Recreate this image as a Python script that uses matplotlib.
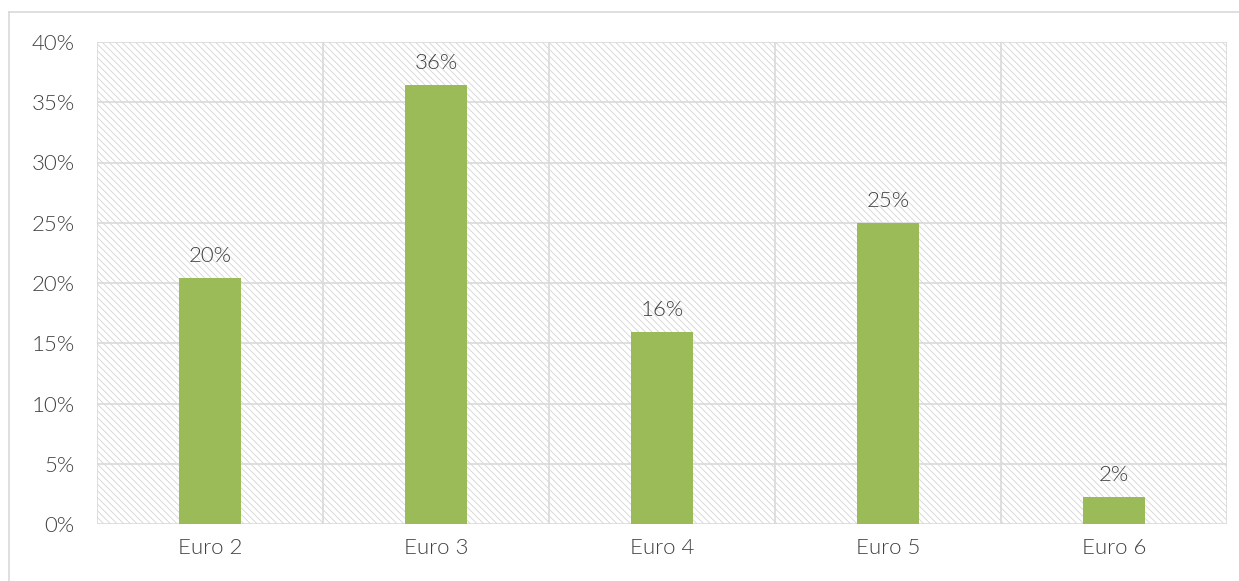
import matplotlib
matplotlib.use("Agg")
import matplotlib.pyplot as plt
from matplotlib.patches import Rectangle
from matplotlib.lines import Line2D
import numpy as np

categories = ["Euro 2", "Euro 3", "Euro 4", "Euro 5", "Euro 6"]
values = [20.4, 36.4, 15.9, 25.0, 2.2]
labels = ["20%", "36%", "16%", "25%", "2%"]
yticks = [0, 5, 10, 15, 20, 25, 30, 35, 40]
ytick_labels = [f"{t}%" for t in yticks]

plt.rcParams['font.family'] = ['Lato', 'DejaVu Sans']
plt.rcParams['hatch.color'] = '#d4d4d4'
plt.rcParams['hatch.linewidth'] = 0.6

text_color = '#404040'
grid_color = '#d9d9d9'
fs = 16
fw = 300

fig = plt.figure(figsize=(12.39, 5.81), dpi=100)
ax = fig.add_axes([97/1239, 57/581, 1130/1239, 482/581])

# outer chart border
fig.add_artist(Line2D([9/1239, 9/1239], [0, 1 - 12/581], transform=fig.transFigure, color=grid_color, lw=1.2))
fig.add_artist(Line2D([9/1239, 1], [1 - 12/581, 1 - 12/581], transform=fig.transFigure, color=grid_color, lw=1.2))

x = np.arange(len(categories))
ax.set_xlim(-0.5, len(categories) - 0.5)
ax.set_ylim(0, 40)

# hatched background
bg = Rectangle((0, 0), 1, 1, transform=ax.transAxes, facecolor='white',
               edgecolor='#d4d4d4', hatch='\\\\\\\\\\', lw=0, zorder=0)
ax.add_patch(bg)

# gridlines
for t in yticks:
    ax.axhline(t, color=grid_color, lw=1.2, zorder=1)
for b in np.arange(-0.5, len(categories), 1.0):
    ax.axvline(b, color=grid_color, lw=1.2, zorder=1)

ax.bar(x, values, width=0.275, color='#9bbb59', zorder=3)

for xi, v, lab in zip(x, values, labels):
    ax.text(xi, v + 1.0, lab, ha='center', va='bottom', fontsize=fs,
            color=text_color, fontweight=fw)

ax.set_xticks(x)
ax.set_xticklabels(categories, fontsize=fs, color=text_color, fontweight=fw)
ax.set_yticks(yticks)
ax.set_yticklabels(ytick_labels, fontsize=fs, color=text_color, fontweight=fw)
ax.tick_params(axis='y', length=0, pad=16)
ax.tick_params(axis='x', length=0, pad=10)
for s in ax.spines.values():
    s.set_visible(False)

fig.savefig("out.png", dpi=100)
